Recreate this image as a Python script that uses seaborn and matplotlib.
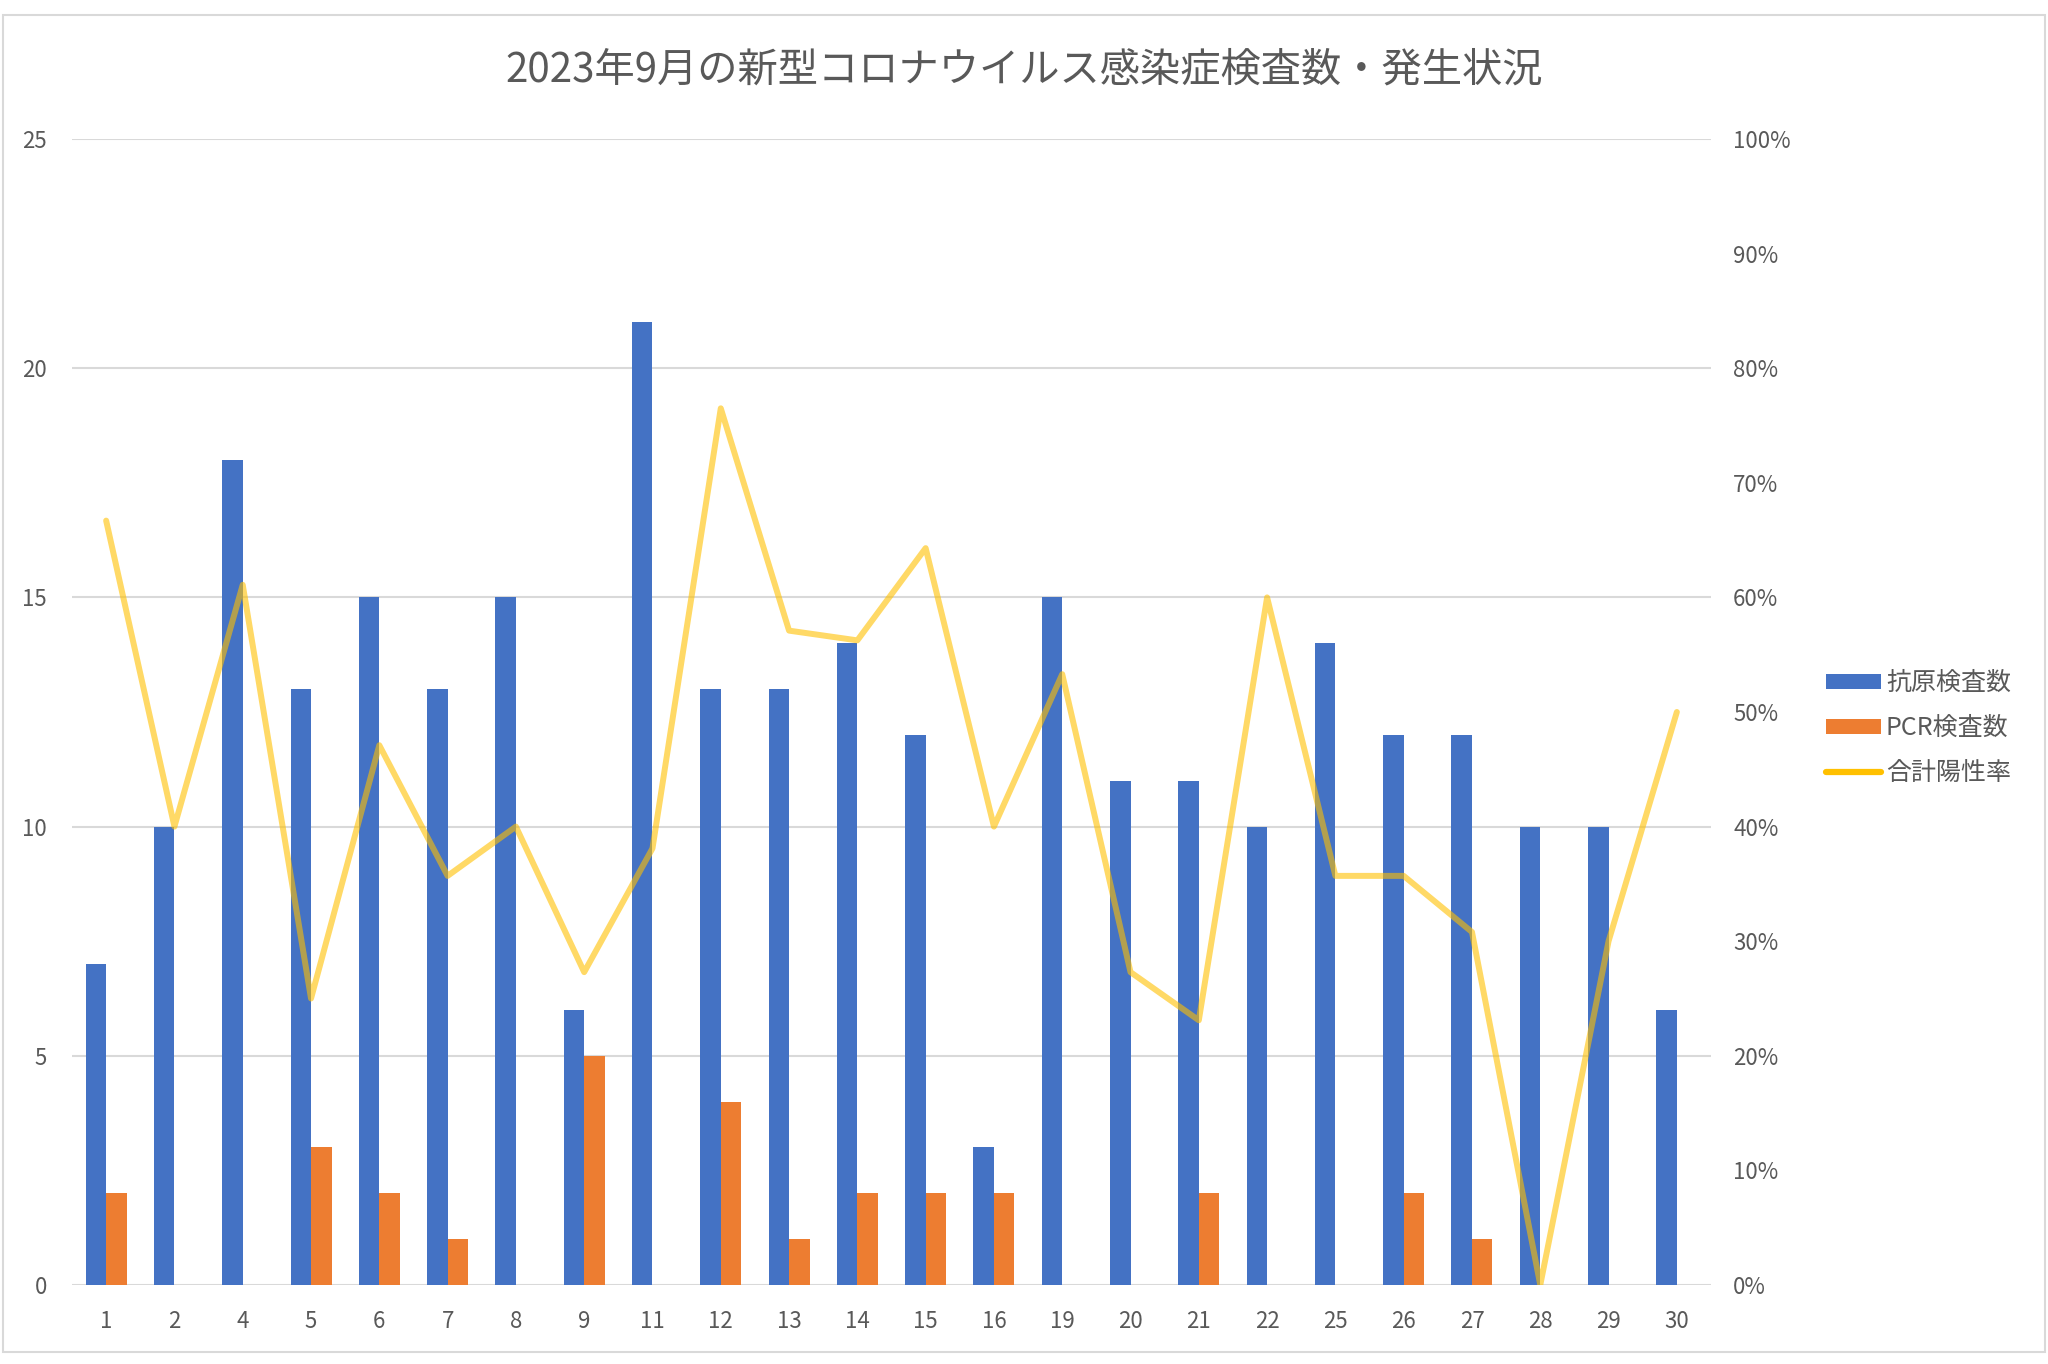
import matplotlib
matplotlib.use("Agg")
import matplotlib.pyplot as plt
import matplotlib.ticker as mticker
from matplotlib.patches import Rectangle, Patch
from matplotlib.lines import Line2D
import seaborn as sns
import pandas as pd

days = ["1", "2", "4", "5", "6", "7", "8", "9", "11", "12", "13", "14",
        "15", "16", "19", "20", "21", "22", "25", "26", "27", "28", "29", "30"]
antigen = [7, 10, 18, 13, 15, 13, 15, 6, 21, 13, 13, 14,
           12, 3, 15, 11, 11, 10, 14, 12, 12, 10, 10, 6]
pcr = [2, 0, 0, 3, 2, 1, 0, 5, 0, 4, 1, 2,
       2, 2, 0, 0, 2, 0, 0, 2, 1, 0, 0, 0]
pos_rate = [0.667, 0.40, 0.611, 0.25, 0.471, 0.357, 0.40, 0.273, 0.381, 0.765, 0.571, 0.5625,
            0.643, 0.40, 0.533, 0.273, 0.231, 0.60, 0.357, 0.357, 0.308, 0.0, 0.30, 0.50]

title = "2023年9月の新型コロナウイルス感染症検査数・発生状況"
series_names = ["抗原検査数", "PCR検査数", "合計陽性率"]

BLUE = "#4472C4"
ORANGE = "#ED7D31"
GOLD = "#FFC000"
TXT = "#595959"
GRID = "#D9D9D9"

sns.set_theme(style="white")
plt.rcParams["font.family"] = ["Noto Sans CJK JP", "DejaVu Sans"]

bars = pd.DataFrame({"day": days, series_names[0]: antigen, series_names[1]: pcr})
long = bars.melt(id_vars="day", var_name="series", value_name="count")
line_df = pd.DataFrame({"day": days, "rate": pos_rate})

fig = plt.figure(figsize=(20.48, 13.64), dpi=100)
fig.patches.append(Rectangle((3 / 2048, 1 - 1352 / 1364), 2042 / 2048, 1337 / 1364,
                             transform=fig.transFigure, fill=False,
                             edgecolor=GRID, linewidth=1.5, zorder=0))

ax = fig.add_axes([72 / 2048, 1 - 1285 / 1364, (1711 - 72) / 2048, (1285 - 139) / 1364])
sns.barplot(data=long, x="day", y="count", hue="series", order=days,
            hue_order=series_names[:2], palette=[BLUE, ORANGE],
            width=0.6, saturation=1, ax=ax, legend=False, errorbar=None,
            linewidth=0, edgecolor="none", zorder=3)
ax.set_ylim(0, 25)
ax.set_yticks(range(0, 26, 5))
ax.set_xlim(-0.5, len(days) - 0.5)
ax.grid(axis="y", color=GRID, linewidth=1.5, zorder=0)
ax.set_axisbelow(True)
for s in ax.spines.values():
    s.set_visible(False)
ax.set_xlabel("")
ax.set_ylabel("")
ax.tick_params(axis="both", length=0, labelsize=16, colors=TXT)
ax.tick_params(axis="x", pad=18)
ax.tick_params(axis="y", pad=18)

ax2 = ax.twinx()
sns.lineplot(data=line_df, x="day", y="rate", ax=ax2, color=GOLD, alpha=0.6,
             linewidth=4.3, sort=False, zorder=4)
ax2.set_ylim(0, 1)
ax2.set_yticks([i / 10 for i in range(11)])
ax2.yaxis.set_major_formatter(mticker.PercentFormatter(1.0, decimals=0))
for s in ax2.spines.values():
    s.set_visible(False)
ax2.set_ylabel("")
ax2.set_xlabel("")
ax2.tick_params(axis="y", length=0, labelsize=16, colors=TXT, pad=16)
ax2.grid(False)

fig.text(0.5, 1 - 70 / 1364, title, ha="center", va="center", fontsize=29, color=TXT)

handles = [Patch(facecolor=BLUE, edgecolor="none"),
           Patch(facecolor=ORANGE, edgecolor="none"),
           Line2D([0], [0], color=GOLD, linewidth=4.5, solid_capstyle="round")]
leg = fig.legend(handles, series_names, loc="center left",
                 bbox_to_anchor=(1826 / 2048, 1 - 728 / 1364), frameon=False,
                 fontsize=18, handlelength=2.2, handleheight=0.55, handletextpad=0.2,
                 labelspacing=0.75, borderpad=0, borderaxespad=0)
for t in leg.get_texts():
    t.set_color(TXT)

fig.savefig("out.png", dpi=100)
